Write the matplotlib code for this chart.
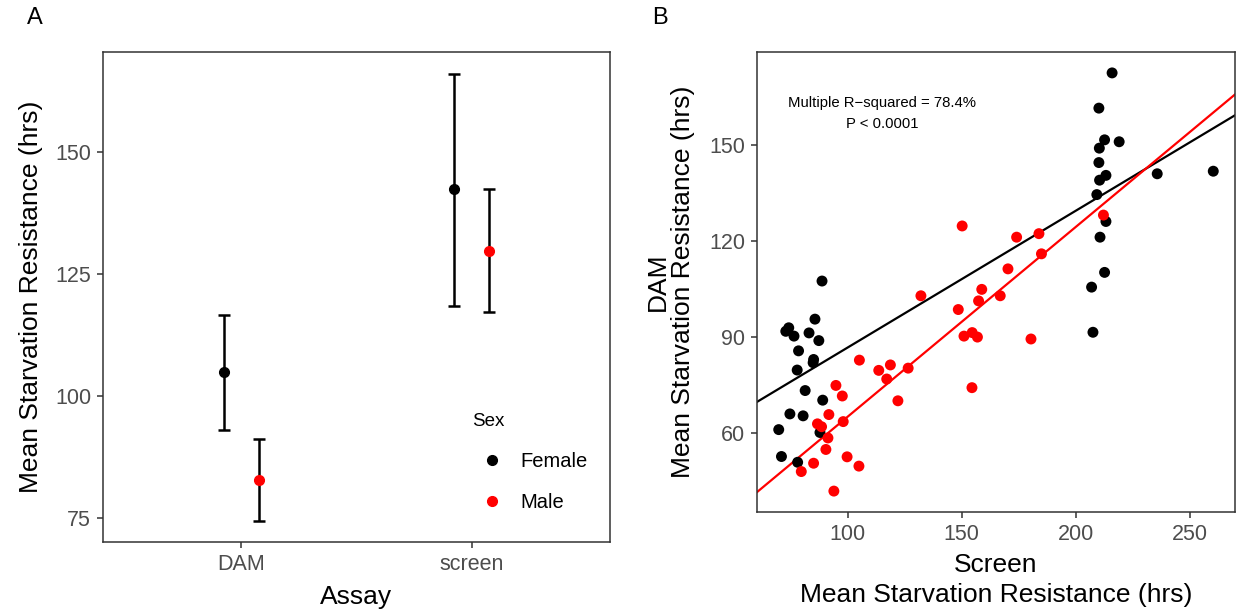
import numpy as np
import matplotlib
matplotlib.use('Agg')
import matplotlib.pyplot as plt
from matplotlib.lines import Line2D

plt.rcParams['font.family'] = ['Liberation Sans', 'DejaVu Sans']

# Panel A: mean starvation resistance by assay and sex
assays = ['DAM', 'screen']
sexes = ['Female', 'Male']
sex_colors = {'Female': 'black', 'Male': 'red'}
mean_female = [104.8, 142.4]
low_female = [93.0, 118.5]
high_female = [116.7, 166.1]
mean_male = [82.7, 129.8]
low_male = [74.3, 117.3]
high_male = [91.1, 142.4]

# Panel B: per-line screen vs DAM values
screen_female = [216.0, 210.2, 212.7, 219.1, 210.4, 210.2, 213.3, 210.5, 235.8, 260.4,
                 209.3, 213.3, 210.7, 212.7, 207.0, 207.6,
                 88.7, 85.6, 74.1, 72.8, 76.4, 83.0, 87.3, 78.4, 85.0, 84.8,
                 77.8, 81.3, 89.0, 74.6, 80.4, 69.7, 87.8, 70.9, 78.0]
dam_female = [172.5, 161.5, 151.6, 151.0, 149.0, 144.5, 140.5, 139.0, 141.0, 141.8,
              134.5, 126.1, 121.2, 110.2, 105.6, 91.5,
              107.5, 95.6, 92.9, 91.8, 90.3, 91.3, 88.9, 85.7, 83.0, 82.0,
              79.7, 73.3, 70.3, 66.0, 65.4, 61.1, 60.2, 52.7, 50.9]
screen_male = [150.2, 174.1, 183.9, 212.2, 185.0, 170.3, 132.1, 158.8, 157.4, 166.9,
               148.5, 151.0, 154.6, 156.9, 180.4, 154.5, 105.1, 113.6, 118.7, 117.1,
               126.5, 122.0, 94.8, 97.6, 91.7, 86.7, 88.5, 98.0, 91.3, 90.4,
               99.7, 85.0, 104.9, 79.6, 93.9]
dam_male = [124.7, 121.2, 122.3, 128.1, 116.0, 111.3, 102.9, 104.9, 101.3, 102.9,
            98.6, 90.3, 91.4, 90.0, 89.4, 74.2, 82.8, 79.6, 81.3, 76.9,
            80.3, 70.1, 74.9, 71.6, 65.8, 62.9, 62.0, 63.6, 58.5, 54.9,
            52.6, 50.6, 49.7, 48.0, 41.9]

W, H = 1238, 613
fig = plt.figure(figsize=(W / 100, H / 100), dpi=100)

def box_axes(l, t, r, b):
    ax = fig.add_axes([l / W, 1 - b / H, (r - l) / W, (b - t) / H])
    for s in ax.spines.values():
        s.set_color('#333333')
        s.set_linewidth(1.1)
    ax.tick_params(colors='#333333', width=1.1, length=4, labelsize=15.5,
                   labelcolor='#4D4D4D', pad=4.5)
    return ax

# ---- Panel A ----
axA = box_axes(103, 52, 610, 542)
x = np.arange(1, len(assays) + 1)
dodge = 0.075
for sex, m, lo, hi, off in [('Female', mean_female, low_female, high_female, -dodge),
                            ('Male', mean_male, low_male, high_male, dodge)]:
    m = np.array(m)
    yerr = [m - np.array(lo), np.array(hi) - m]
    axA.errorbar(x + off, m, yerr=yerr, fmt='none', ecolor='black', elinewidth=1.8,
                 capsize=4, capthick=1.8, zorder=2)
    axA.plot(x + off, m, 'o', color=sex_colors[sex], markersize=7, zorder=3)
axA.set_xlim(0.4, 2.6)
axA.set_ylim(70.0, 170.6)
axA.set_xticks(x)
axA.set_xticklabels(assays)
axA.set_yticks([75, 100, 125, 150])
axA.set_xlabel('Assay', fontsize=19, labelpad=7)
axA.set_ylabel('Mean Starvation Resistance (hrs)', fontsize=19, labelpad=9)
handles = [Line2D([], [], marker='o', linestyle='none', color=sex_colors[s], markersize=7)
           for s in sexes]
leg = axA.legend(handles, sexes, title='Sex', frameon=False, fontsize=14.5,
                 title_fontsize=13.5, loc='upper left',
                 bbox_to_anchor=(472 / W, 1 - 413 / H), bbox_transform=fig.transFigure,
                 borderpad=0, borderaxespad=0, labelspacing=1.1, handletextpad=0.4,
                 handlelength=2.0, alignment='left')

# ---- Panel B ----
axB = box_axes(757, 52, 1235, 512)
all_x = screen_female + screen_male
all_y = dam_female + dam_male
xlo, xhi = min(all_x), max(all_x)
ylo, yhi = min(all_y), max(all_y)
xlim = (xlo - 0.05 * (xhi - xlo), xhi + 0.05 * (xhi - xlo))
ylim = (ylo - 0.05 * (yhi - ylo), yhi + 0.05 * (yhi - ylo))
xx = np.array(xlim)
for sx, dy, sex in [(screen_female, dam_female, 'Female'), (screen_male, dam_male, 'Male')]:
    axB.scatter(sx, dy, s=62, color=sex_colors[sex], edgecolors='none', zorder=3)
    slope, icept = np.polyfit(sx, dy, 1)
    axB.plot(xx, slope * xx + icept, color=sex_colors[sex], linewidth=1.6, zorder=2)
axB.set_xlim(*xlim)
axB.set_ylim(*ylim)
axB.set_xticks([100, 150, 200, 250])
axB.set_yticks([60, 90, 120, 150])
axB.set_xlabel('Screen\nMean Starvation Resistance (hrs)', fontsize=19, labelpad=6,
               linespacing=1.3)
axB.set_ylabel('DAM\nMean Starvation Resistance (hrs)', fontsize=19, labelpad=10,
               linespacing=1.1)
axB.text(115, 163, 'Multiple R\u2212squared = 78.4%', ha='center', va='center', fontsize=10.7)
axB.text(115, 156.7, 'P < 0.0001', ha='center', va='center', fontsize=10.7)

fig.text(35 / W, 1 - 18 / H, 'A', fontsize=17, ha='center', va='center')
fig.text(660 / W, 1 - 18 / H, 'B', fontsize=17, ha='center', va='center')

fig.savefig('out.png', dpi=100)
